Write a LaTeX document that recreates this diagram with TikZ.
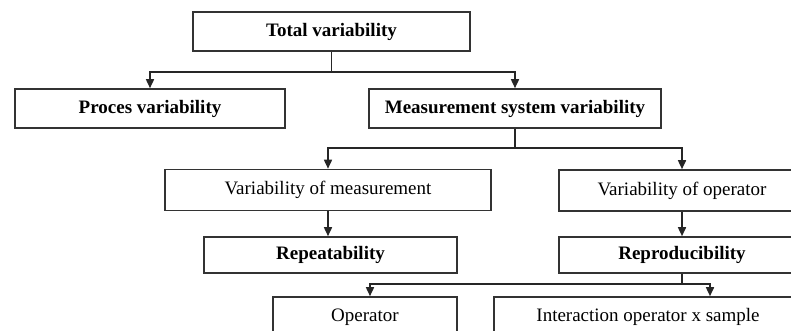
\documentclass[tikz,border=0pt]{standalone}
\usepackage{fontspec}
\setmainfont{Liberation Serif}
\usetikzlibrary{arrows.meta}

\begin{document}
\begin{tikzpicture}[
  x=1pt, y=-1pt,
  >={Triangle[width=8pt,length=9pt]},
  line width=1.6pt,
  box/.style={draw=black!80, rectangle, inner sep=0pt, minimum height=39pt, font=\fontsize{19}{22}\selectfont},
  hbox/.style={box, font=\fontsize{19}{22}\selectfont\bfseries},
  flow/.style={->, draw=black!85, line width=1.6pt}
]
  \useasboundingbox (0,0) rectangle (791,330);

  \node[hbox, minimum width=277pt] (tot) at (331.5,31.5) {Total variability};
  \node[hbox, minimum width=270pt] (proc) at (150,108.5) {Proces variability};
  \node[hbox, minimum width=292pt] (msv) at (515,108.5) {Measurement system variability};

  \node[box, minimum width=326pt, minimum height=41pt] (vom) at (328,190) {Variability of measurement};
  \node[box, minimum width=246pt, minimum height=41pt] (vop) at (682,190.5) {Variability of operator};

  \node[hbox, minimum width=253pt, minimum height=36pt] (rep) at (330.5,255) {Repeatability};
  \node[hbox, minimum width=246pt, minimum height=36pt] (rpr) at (682,255) {Reproducibility};

  \node[box, minimum width=184pt, minimum height=40pt] (op) at (365,317) {Operator};
  \node[box, minimum width=308pt, minimum height=40pt] (ia) at (648,317) {Interaction operator x sample};

  \draw[flow] (tot.south) -- ++(0,20) -| (proc.north);
  \draw[flow] (tot.south) ++(0,20) -| (msv.north);

  \draw[flow] (msv.south) -- ++(0,19) -| (vom.north);
  \draw[flow] (msv.south) ++(0,19) -| (vop.north);

  \draw[flow] (vom.south) -- (vom.south |- rep.north);
  \draw[flow] (vop.south) -- (rpr.north);

  \draw[flow] (rpr.south) -- ++(0,10) -| ([xshift=5pt]op.north);
  \draw[flow] (rpr.south) ++(0,10) -| ([xshift=62pt]ia.north);
\end{tikzpicture}
\end{document}
